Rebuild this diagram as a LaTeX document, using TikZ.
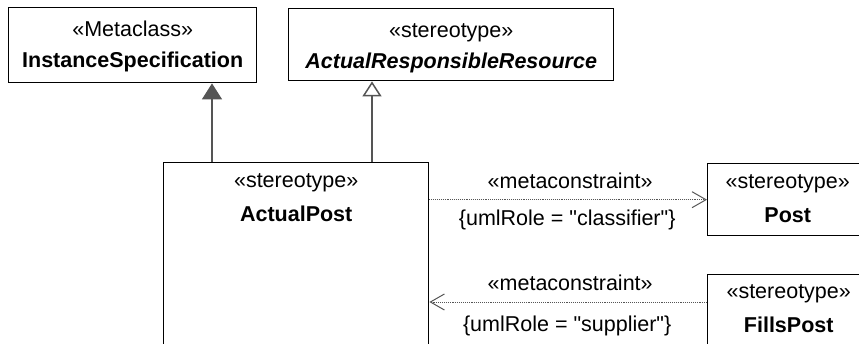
\documentclass[tikz,border=0pt]{standalone}
\usepackage{fontspec}
\setmainfont{Liberation Sans}
\usetikzlibrary{arrows.meta}
\definecolor{linegray}{HTML}{555555}
\begin{document}
\begin{tikzpicture}[x=1pt,y=-1pt,
  font=\fontsize{21.5}{25}\selectfont,
  classbox/.style={draw=black,line width=1.4pt,rectangle,inner sep=0pt,anchor=north west},
  txt/.style={inner sep=0pt,anchor=base},
  gen/.style={draw=linegray,line width=1.5pt},
  dep/.style={draw=linegray,line width=0.9pt,densely dotted,-{Straight Barb[length=14pt,width=16pt,line width=1pt]}}]
  \useasboundingbox (0,0) rectangle (859,343);
  \clip (0,0) rectangle (859,343);
  % class boxes
  \node[classbox,minimum width=248pt,minimum height=75pt] (is) at (8,7) {};
  \node[classbox,minimum width=325pt,minimum height=72pt] (arr) at (288,8) {};
  \node[classbox,minimum width=265pt,minimum height=190pt] (ap) at (163,162) {};
  \node[classbox,minimum width=160pt,minimum height=72pt] (post) at (707,163) {};
  \node[classbox,minimum width=162pt,minimum height=80pt] (fp) at (707,274) {};
  % texts
  \node[txt] (is-st) at ([yshift=-29pt]is.north) {«Metaclass»};
  \node[txt] (is-nm) at ([yshift=-60pt]is.north) {\bfseries InstanceSpecification};
  \node[txt] (arr-st) at ([yshift=-29pt]arr.north) {«stereotype»};
  \node[txt] (arr-nm) at ([yshift=-60pt]arr.north) {\bfseries\itshape ActualResponsibleResource};
  \node[txt] (ap-st) at ([yshift=-25pt]ap.north) {«stereotype»};
  \node[txt] (ap-nm) at ([yshift=-59pt]ap.north) {\bfseries ActualPost};
  \node[txt] (post-st) at ([yshift=-25pt]post.north) {«stereotype»};
  \node[txt] (post-nm) at ([yshift=-59pt]post.north) {\bfseries Post};
  \node[txt] (fp-st) at ([yshift=-24pt]fp.north) {«stereotype»};
  \node[txt] (fp-nm) at ([yshift=-58pt]fp.north) {\bfseries FillsPost};
  % generalizations
  \coordinate (g1) at ([xshift=49pt]ap.north west);
  \coordinate (g2) at ([xshift=209pt]ap.north west);
  \draw[gen,-{Triangle[length=16pt,width=20pt,fill=linegray]}] (g1) -- (g1 |- is.south);
  \draw[gen,-{Triangle[open,length=15pt,width=19pt,fill=white]}] (g2) -- (g2 |- arr.south);
  % metaconstraints
  \draw[dep] (ap.east |- post.west) -- (post.west)
    node[midway,above=11pt,inner sep=0pt,xshift=2pt] (mc1) {«metaconstraint»}
    node[midway,below=10pt,inner sep=0pt,xshift=-1pt] (role1) {\{umlRole = \textquotedbl classifier\textquotedbl\}};
  \coordinate (fpout) at ([yshift=-28pt]fp.north west);
  \draw[dep] (fpout) -- (ap.east |- fpout)
    node[midway,above=11pt,inner sep=0pt,xshift=2pt] (mc2) {«metaconstraint»}
    node[midway,below=13pt,inner sep=0pt,xshift=-1pt] (role2) {\{umlRole = \textquotedbl supplier\textquotedbl\}};
\end{tikzpicture}
\end{document}
